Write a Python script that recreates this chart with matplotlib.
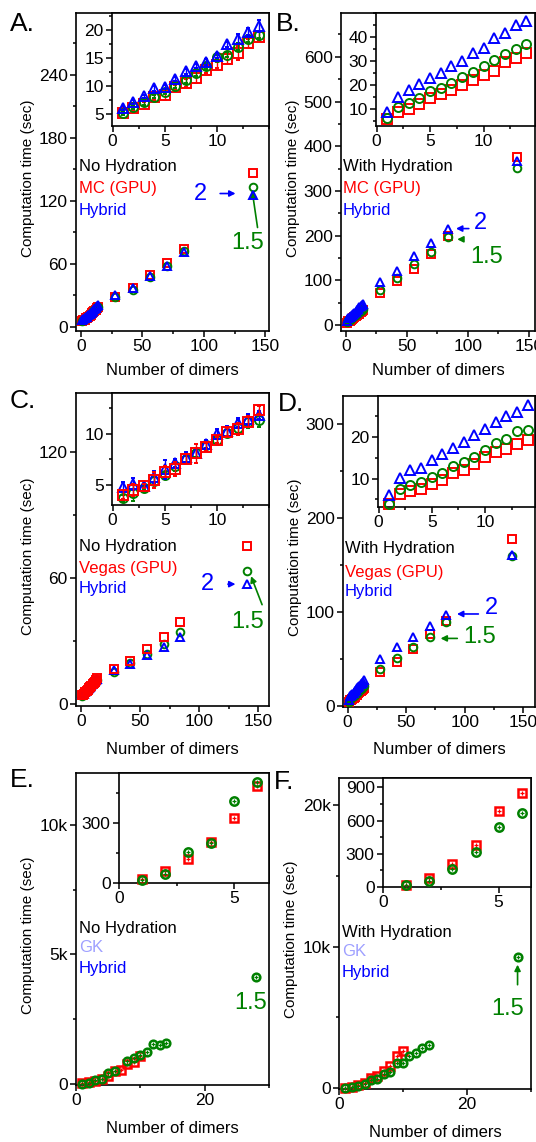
import numpy as np
import matplotlib
matplotlib.use("Agg")
import matplotlib.pyplot as plt
from matplotlib.ticker import MultipleLocator, FixedLocator

plt.rcParams['font.family'] = ['Liberation Sans', 'DejaVu Sans']

RED = '#ff0000'
GREEN = '#008000'
BLUE = '#0000ff'
LIGHT = '#9fa0ff'

# ----------------------------
# data
# ----------------------------
dimers = [1, 2, 3, 4, 5, 6, 7, 8, 9, 10, 11, 12, 13, 14, 28, 42, 56, 70, 84, 140]

a_mc = [5.2, 6.1, 6.8, 8.0, 8.5, 9.8, 10.5, 11.4, 12.9, 13.8, 14.9, 15.9, 17.6, 18.8,
        28, 37, 49, 61, 74, 147]
a_1p5 = [5.2, 6.2, 7.1, 8.1, 9.0, 10.1, 11.1, 12.4, 13.5, 15.2, 15.6, 17.0, 18.4, 19.1,
         28, 35, 47, 58, 72, 133]
a_2 = [6.1, 7.2, 8.2, 9.6, 9.8, 11.3, 12.6, 13.6, 14.3, 15.4, 17.4, 18.3, 19.7, 20.7,
       30, 37, 48, 58, 71, 126]
a_mc_err = [0.3, 0.3, 0.4, 0.4, 0.9, 0.4, 0.7, 0.9, 0.6, 0.5, 1.0, 1.2, 0.8, 0.8]
a_1p5_err = [0.3, 0.3, 0.4, 0.3, 0.4, 0.4, 0.5, 0.6, 0.5, 0.4, 0.5, 0.6, 0.5, 0.5]
a_2_err = [0.3, 0.3, 0.3, 0.4, 0.4, 0.4, 0.5, 0.4, 0.5, 0.4, 0.5, 0.9, 0.7, 1.0]

b_mc = [6.0, 8.8, 10.2, 12.3, 14.6, 16.2, 17.9, 20.1, 22.2, 24.3, 25.9, 29.7, 31.3, 33.2,
        71, 98, 125, 160, 200, 377]
b_1p5 = [6.5, 10.7, 12.6, 14.7, 17.5, 19.0, 21.0, 23.2, 25.5, 28.0, 30.4, 32.8, 34.9, 37.0,
         78, 106, 136, 163, 198, 351]
b_2 = [8.9, 15.0, 17.9, 20.3, 23.0, 24.9, 28.0, 30.0, 33.2, 35.5, 39.7, 41.8, 45.0, 46.8,
       97, 122, 155, 183, 214, 366]

c_vegas = [4.03, 4.45, 4.84, 5.48, 6.29, 6.5, 7.54, 8.07, 8.7, 9.35, 10.15, 10.5, 11.2, 12.3,
           16.7, 20.6, 26.2, 32.0, 38.9, 75.1]
c_1p5 = [3.68, 4.2, 4.64, 5.4, 5.97, 6.8, 7.5, 8.07, 8.9, 9.4, 10.1, 10.6, 11.2, 11.35,
         15.4, 19.5, 23.8, 28.6, 34.1, 63.2]
c_2 = [4.78, 5.1, 4.84, 5.74, 6.5, 7.1, 7.7, 8.1, 9.0, 10.0, 10.3, 11.1, 11.4, 11.8,
       15.9, 19.0, 23.3, 27.0, 32.0, 57.1]
c_vegas_err = [0.4, 0.6, 0.2, 0.8, 0.5, 0.7, 0.5, 0.9, 0.4, 0.3, 0.4, 0.6, 0.5, 0.4]
c_1p5_err = [0.3, 0.8, 0.2, 0.4, 0.3, 0.5, 0.3, 0.4, 0.3, 0.3, 0.4, 0.7, 0.6, 0.7]
c_2_err = [0.5, 0.6, 0.2, 0.6, 0.9, 0.4, 0.5, 0.5, 0.4, 0.5, 0.5, 0.4, 0.5, 0.4]

d_vegas = [4.0, 6.2, 6.95, 7.4, 8.6, 9.76, 11.3, 12.0, 13.6, 15.2, 16.3, 17.0, 18.2, 19.3,
           36.1, 46.7, 61, 77.2, 90.3, 178]
d_1p5 = [4.0, 7.4, 8.4, 9.2, 10.4, 11.4, 13.1, 14.1, 15.2, 16.8, 18.5, 19.6, 21.3, 21.6,
         39.7, 51.4, 63, 73.3, 89, 160]
d_2 = [6.0, 10.2, 12.0, 12.6, 14.4, 15.8, 17.4, 18.8, 20.5, 21.8, 23.6, 24.9, 26.0, 27.6,
       50.3, 63, 73.7, 85.7, 97.3, 161]

gk_dimers = [1, 2, 3, 4, 5, 6, 7, 8, 9, 10]
hyb_dimers = [1, 2, 3, 4, 5, 6, 7, 8, 9, 10, 11, 12, 13, 14, 28]
e_gk = [20, 59, 120, 207, 325, 485, 550, 770, 830, 1090]
e_1p5 = [17, 47, 157, 199, 409, 505, np.nan, 870, 1000, 1127, 1216, 1550, 1485, 1600, 4142]
f_gk = [21, 82, 206, 378, 686, 852, 1223, 1529, 2235, 2588]
f_1p5 = [15, 54, 160, 312, 544, 665, 988, 1150, 1764, 1811, 2282, 2517, 2870, 3035, 9266]

W, H = 536, 1142
fig = plt.figure(figsize=(W / 100, H / 100), dpi=100)

TICK_FS = 12.5
TEXT_FS = 12
LETTER_FS = 19
insets = []


def box(l, t, r, b):
    return [l / W, 1 - b / H, (r - l) / W, (b - t) / H]


def ftext(x, y, s, **kw):
    fig.text(x / W, 1 - y / H, s, **kw)


def style(ax, xmaj, xmin, ymaj, ymin, fs=TICK_FS):
    ax.xaxis.set_major_locator(FixedLocator(xmaj))
    ax.xaxis.set_minor_locator(MultipleLocator(xmin))
    ax.yaxis.set_major_locator(FixedLocator(ymaj))
    ax.yaxis.set_minor_locator(MultipleLocator(ymin))
    ax.tick_params(which='both', direction='out', top=False, right=False,
                   labelsize=fs, width=1.1, pad=2)
    ax.tick_params(which='major', length=4)
    ax.tick_params(which='minor', length=2.5)
    for s in ax.spines.values():
        s.set_linewidth(1.2)


def series(ax, x, y, color, marker, err=None, ms=5.5, z=3):
    ax.errorbar(x, y, yerr=err, fmt=marker, color=color, mfc='none', mec=color,
                ms=ms, mew=1.4, elinewidth=1.0, capsize=1.5, zorder=z, clip_on=False)


def main_axes(pos, xlim, ylim, ymaj, ymin, label_x):
    ax = fig.add_axes(pos)
    ax.set_xlim(*xlim)
    ax.set_ylim(*ylim)
    style(ax, [0, 50, 100, 150], 25, ymaj, ymin)
    ax.set_xlabel("Number of dimers", fontsize=12, va='center')
    ax.xaxis.set_label_coords(0.5, label_x)
    ax.set_ylabel("Computation time (sec)", fontsize=11, va='center')
    ax.yaxis.set_label_coords(-0.25, 0.48)
    return ax


def inset_axes(pos, xlim, ylim, ymaj, ymin, xmaj=(0, 5, 10)):
    ax = fig.add_axes(pos, zorder=5)
    ax.set_xlim(*xlim)
    ax.set_ylim(*ylim)
    style(ax, list(xmaj), 2.5, ymaj, ymin)
    ax.patch.set_facecolor('white')
    insets.append((ax, xlim, ylim))
    return ax


def arrow(ax, text_xy, start, end, s, color, fs=17):
    ax.text(*text_xy, s, color=color, fontsize=fs, ha='center', va='center')
    ax.annotate('', xy=end, xytext=start,
                arrowprops=dict(arrowstyle='-|>,head_length=0.35,head_width=0.18',
                                color=color, lw=1.2))


# ----------------------------
# A. No hydration, MC (GPU)
# ----------------------------
ax = main_axes(box(76, 13, 269, 331), (-4, 153), (-4, 299), [0, 60, 120, 180, 240], 30, -0.123)
series(ax, dimers, a_mc, RED, 's', z=3)
series(ax, dimers, a_1p5, GREEN, 'o', z=4)
series(ax, dimers, a_2, BLUE, '^', z=5)
arrow(ax, (97, 127), (111, 127), (128, 127), '2', BLUE)
arrow(ax, (136, 80), (144, 92), (139, 132), '1.5', GREEN)
ins = inset_axes(box(112, 13, 269, 126), (-0.05, 15), (2.9, 23), [5, 10, 15, 20], 2.5)
series(ins, dimers[:14], a_mc[:14], RED, 's', a_mc_err, ms=6.5)
series(ins, dimers[:14], a_1p5[:14], GREEN, 'o', a_1p5_err, ms=6.5, z=4)
series(ins, dimers[:14], a_2[:14], BLUE, '^', a_2_err, ms=6.5, z=5)
ftext(79, 167, "No Hydration", fontsize=TEXT_FS, color='black', va='center')
ftext(79, 189, "MC (GPU)", fontsize=TEXT_FS, color=RED, va='center')
ftext(79, 210, "Hybrid", fontsize=TEXT_FS, color=BLUE, va='center')
ftext(10, 24, "A.", fontsize=LETTER_FS, va='center')

# ----------------------------
# B. With hydration, MC (GPU)
# ----------------------------
ax = main_axes(box(341, 13, 535, 331), (-4, 155), (-13, 698), [0, 100, 200, 300, 400, 500, 600], 50, -0.123)
series(ax, dimers, b_mc, RED, 's', z=3)
series(ax, dimers, b_1p5, GREEN, 'o', z=4)
series(ax, dimers, b_2, BLUE, '^', z=5)
arrow(ax, (110, 229), (103, 216), (88, 216), '2', BLUE)
arrow(ax, (115, 153), (97, 192), (89, 192), '1.5', GREEN)
ins = inset_axes(box(376, 13, 535, 126), (-0.05, 14.8), (3, 50), [10, 20, 30, 40], 5)
series(ins, dimers[:14], b_mc[:14], RED, 's', ms=6.5)
series(ins, dimers[:14], b_1p5[:14], GREEN, 'o', ms=6.5, z=4)
series(ins, dimers[:14], b_2[:14], BLUE, '^', ms=6.5, z=5)
ftext(343, 167, "With Hydration", fontsize=TEXT_FS, color='black', va='center')
ftext(343, 189, "MC (GPU)", fontsize=TEXT_FS, color=RED, va='center')
ftext(343, 210, "Hybrid", fontsize=TEXT_FS, color=BLUE, va='center')
ftext(276, 24, "B.", fontsize=LETTER_FS, va='center')

# ----------------------------
# C. No hydration, Vegas (GPU)
# ----------------------------
ax = main_axes(box(76, 393, 269, 706), (-4, 159), (-1, 148), [0, 60, 120], 30, -0.14)
series(ax, dimers, c_1p5, GREEN, 'o', z=3)
series(ax, dimers, c_2, BLUE, '^', z=4)
series(ax, dimers, c_vegas, RED, 's', z=5)
arrow(ax, (107, 57), (122, 57), (133, 57), '2', BLUE)
arrow(ax, (141, 39), (154, 46), (143, 62), '1.5', GREEN)
ins = inset_axes(box(112, 393, 269, 505), (-0.05, 15), (3.0, 14.0), [5, 10], 2.5)
series(ins, dimers[:14], c_1p5[:14], GREEN, 'o', c_1p5_err, ms=6.5, z=3)
series(ins, dimers[:14], c_2[:14], BLUE, '^', c_2_err, ms=6.5, z=4)
series(ins, dimers[:14], c_vegas[:14], RED, 's', c_vegas_err, ms=6.5, z=5)
ftext(79, 547, "No Hydration", fontsize=TEXT_FS, color='black', va='center')
ftext(79, 568, "Vegas (GPU)", fontsize=TEXT_FS, color=RED, va='center')
ftext(79, 588, "Hybrid", fontsize=TEXT_FS, color=BLUE, va='center')
ftext(10, 401, "C.", fontsize=LETTER_FS, va='center')

# ----------------------------
# D. With hydration, Vegas (GPU)
# ----------------------------
ax = main_axes(box(343, 396, 535, 707), (-4, 160), (-1, 330), [0, 100, 200, 300], 50, -0.138)
series(ax, dimers, d_vegas, RED, 's', z=3)
series(ax, dimers, d_1p5, GREEN, 'o', z=4)
series(ax, dimers, d_2, BLUE, '^', z=5)
arrow(ax, (123, 104), (114, 98), (91, 98), '2', BLUE)
arrow(ax, (113, 74), (96, 72), (77, 72), '1.5', GREEN)
ins = inset_axes(box(378, 396, 535, 507), (-0.05, 14.7), (3.2, 29.8), [10, 20], 5)
series(ins, dimers[:14], d_vegas[:14], RED, 's', ms=6.5)
series(ins, dimers[:14], d_1p5[:14], GREEN, 'o', ms=6.5, z=4)
series(ins, dimers[:14], d_2[:14], BLUE, '^', ms=6.5, z=5)
ftext(345, 549, "With Hydration", fontsize=TEXT_FS, color='black', va='center')
ftext(345, 572, "Vegas (GPU)", fontsize=TEXT_FS, color=RED, va='center')
ftext(345, 592, "Hybrid", fontsize=TEXT_FS, color=BLUE, va='center')
ftext(278, 404, "D.", fontsize=LETTER_FS, va='center')


# ----------------------------
# E. / F. GK vs hybrid
# ----------------------------
def gk_series(ax, x, y, color, marker, ms, z):
    ax.plot(x, y, marker, color=color, mfc='none', mec=color, ms=ms, mew=1.8, zorder=z, clip_on=False)
    ax.plot(x, y, '+', color=color, ms=ms * 0.5, mew=0.9, zorder=z, clip_on=False)


def gk_main(pos, ylim, ymaj, ylabels, label_x):
    ax = fig.add_axes(pos)
    ax.set_xlim(0, 30)
    ax.set_ylim(*ylim)
    style(ax, [0, 20], 10, ymaj, ymaj[1] / 2)
    ax.set_yticklabels(ylabels)
    ax.set_xlabel("Number of dimers", fontsize=12, va='center')
    ax.xaxis.set_label_coords(0.5, label_x)
    ax.set_ylabel("Computation time (sec)", fontsize=11, va='center')
    ax.yaxis.set_label_coords(-0.25, 0.48)
    return ax


ax = gk_main(box(76, 773, 269, 1085), (-40, 12000), [0, 5000, 10000], ['0', '5k', '10k'], -0.138)
gk_series(ax, gk_dimers, e_gk, RED, 's', 5.5, 3)
gk_series(ax, hyb_dimers, e_1p5, GREEN, 'o', 5.5, 4)
ax.text(27.1, 3140, '1.5', color=GREEN, fontsize=17, ha='center', va='center')
ins = inset_axes(box(119, 773, 269, 883), (0, 6.5), (0, 552), [0, 300], 150, xmaj=(0, 5))
gk_series(ins, gk_dimers[:6], e_gk[:6], RED, 's', 6, 3)
gk_series(ins, hyb_dimers[:6], e_1p5[:6], GREEN, 'o', 6, 4)
ftext(79, 928, "No Hydration", fontsize=TEXT_FS, color='black', va='center')
ftext(79, 948, "GK", fontsize=TEXT_FS, color=LIGHT, va='center')
ftext(79, 969, "Hybrid", fontsize=TEXT_FS, color=BLUE, va='center')
ftext(10, 780, "E.", fontsize=LETTER_FS, va='center')

ax = gk_main(box(339, 778, 531, 1089), (-60, 21900), [0, 10000, 20000], ['0', '10k', '20k'], -0.141)
gk_series(ax, gk_dimers, f_gk, RED, 's', 5.5, 3)
gk_series(ax, hyb_dimers, f_1p5, GREEN, 'o', 5.5, 4)
arrow(ax, (26.4, 5575), (27.9, 7107), (27.9, 8913), '1.5', GREEN)
ins = inset_axes(box(383, 778, 531, 887), (0, 6.4), (0, 985), [0, 300, 600, 900], 150, xmaj=(0, 5))
gk_series(ins, gk_dimers[:6], f_gk[:6], RED, 's', 6, 3)
gk_series(ins, hyb_dimers[:6], f_1p5[:6], GREEN, 'o', 6, 4)
ftext(342, 932, "With Hydration", fontsize=TEXT_FS, color='black', va='center')
ftext(342, 952, "GK", fontsize=TEXT_FS, color=LIGHT, va='center')
ftext(342, 972, "Hybrid", fontsize=TEXT_FS, color=BLUE, va='center')
ftext(274, 782, "F.", fontsize=LETTER_FS, va='center')

# keep the inset limits fixed after all the plotting
for a, xl, yl in insets:
    a.set_xlim(*xl)
    a.set_ylim(*yl)

fig.savefig("out.png", dpi=100)
